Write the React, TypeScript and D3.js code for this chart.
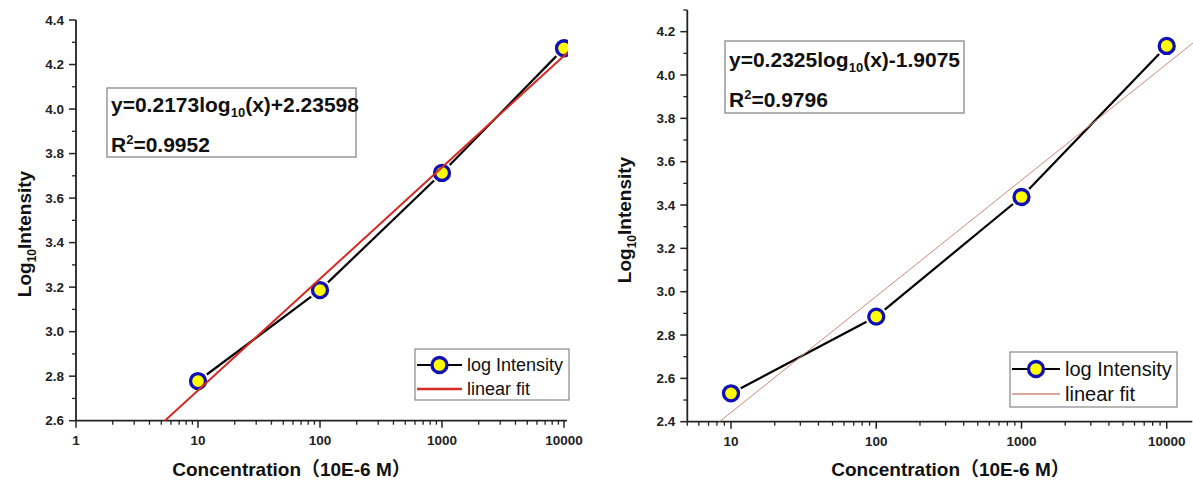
import React from "react";
import * as d3 from "d3";

// ---------- data ----------
const CONCENTRATION = [10, 100, 1000, 10000];
const LEFT_LOG_INTENSITY = [2.778, 3.187, 3.713, 4.273];
const RIGHT_LOG_INTENSITY = [2.531, 2.885, 3.437, 4.134];
const LEFT_X_TICKS = [1, 10, 100, 1000, 10000];
const RIGHT_X_TICKS = [10, 100, 1000, 10000];
const LEFT_Y_TICKS = [2.6, 2.8, 3.0, 3.2, 3.4, 3.6, 3.8, 4.0, 4.2, 4.4];
const RIGHT_Y_TICKS = [2.4, 2.6, 2.8, 3.0, 3.2, 3.4, 3.6, 3.8, 4.0, 4.2];
const LEFT_EQUATION = ["y=0.2173log", "10", "(x)+2.23598"];
const RIGHT_EQUATION = ["y=0.2325log", "10", "(x)-1.9075"];
const LEFT_R2 = "=0.9952";
const RIGHT_R2 = "=0.9796";
const LEGEND_LABELS = ["log Intensity", "linear fit"];
const X_TITLE = "Concentration（10E-6 M）";

const FONT = "'Liberation Sans', Arial, 'Noto Sans CJK SC', sans-serif";

function fit(xs: number[], ys: number[]) {
  const lx = xs.map((v) => Math.log10(v));
  const mx = d3.mean(lx)!;
  const my = d3.mean(ys)!;
  let num = 0, den = 0;
  lx.forEach((v, i) => {
    num += (v - mx) * (ys[i] - my);
    den += (v - mx) * (v - mx);
  });
  const slope = num / den;
  return { slope, intercept: my - slope * mx };
}

type PanelCfg = {
  id: string;
  xDomain: [number, number];
  xRange: [number, number];
  xAxisEnd: number;
  yDomain: [number, number];
  yRange: [number, number];
  xTicks: number[];
  yTicks: number[];
  values: number[];
  fitColor: string;
  fitWidth: number;
  clipRight: number;
  equation: string[];
  r2: string;
  eqBox: [number, number, number, number];
  eqBaselines: [number, number];
  legendBox: [number, number, number, number];
  legendRows: [number, number];
  legendFont: number;
  xTitleX: number;
  yTitle: [number, number];
};

const PANELS: PanelCfg[] = [
  {
    id: "L",
    xDomain: [1, 10000],
    xRange: [76, 564],
    xAxisEnd: 567,
    yDomain: [2.6, 4.4],
    yRange: [420.7, 20],
    xTicks: LEFT_X_TICKS,
    yTicks: LEFT_Y_TICKS,
    values: LEFT_LOG_INTENSITY,
    fitColor: "#d42a22",
    fitWidth: 2,
    clipRight: 568,
    equation: LEFT_EQUATION,
    r2: LEFT_R2,
    eqBox: [107, 88, 356, 157],
    eqBaselines: [112, 152],
    legendBox: [415, 349, 569, 400],
    legendRows: [365, 389],
    legendFont: 18,
    xTitleX: 291.5,
    yTitle: [31, 234],
  },
  {
    id: "R",
    xDomain: [5, 15000],
    xRange: [687.3, 1192.3],
    xAxisEnd: 1192.3,
    yDomain: [2.4, 4.3],
    yRange: [421.7, 10],
    xTicks: RIGHT_X_TICKS,
    yTicks: RIGHT_Y_TICKS,
    values: RIGHT_LOG_INTENSITY,
    fitColor: "#d08878",
    fitWidth: 1,
    clipRight: 1193,
    equation: RIGHT_EQUATION,
    r2: RIGHT_R2,
    eqBox: [725, 41, 964, 113],
    eqBaselines: [67, 107],
    legendBox: [1010, 352, 1177, 407],
    legendRows: [369, 394],
    legendFont: 20,
    xTitleX: 950.5,
    yTitle: [631, 220],
  },
];

function Marker({ cx, cy }: { cx: number; cy: number }) {
  return <circle cx={cx} cy={cy} r={7.5} fill="#ffff00" stroke="#1010b4" strokeWidth={3.3} />;
}

function Panel({ p }: { p: PanelCfg }) {
  const x = d3.scaleLog().domain(p.xDomain).range(p.xRange);
  const y = d3.scaleLinear().domain(p.yDomain).range(p.yRange);
  const y0 = p.yRange[0];
  const x0 = p.xRange[0];
  const axisColor = "#222";

  // minor ticks
  const minorX: number[] = [];
  for (let e = -1; e <= 5; e++) {
    for (let m = 2; m <= 9; m++) {
      const v = m * Math.pow(10, e);
      if (v >= p.xDomain[0] && v <= p.xDomain[1]) minorX.push(v);
    }
  }
  const minorY: number[] = [];
  for (let v = p.yDomain[0] + 0.1; v < p.yDomain[1] + 1e-9; v += 0.2) minorY.push(+v.toFixed(2));

  const pts = CONCENTRATION.map((c, i) => [x(c), y(p.values[i])] as [number, number]);
  const gap = 11;
  const segs = pts.slice(1).map((b, i) => {
    const a = pts[i];
    const dx = b[0] - a[0], dy = b[1] - a[1];
    const L = Math.hypot(dx, dy);
    return [a[0] + (dx / L) * gap, a[1] + (dy / L) * gap, b[0] - (dx / L) * gap, b[1] - (dy / L) * gap];
  });

  const f = fit(CONCENTRATION, p.values);
  const fitLine = d3
    .line<number>()
    .x((v) => x(v))
    .y((v) => y(f.slope * Math.log10(v) + f.intercept));
  const fitXs = [p.xDomain[0] * 0.5, p.xDomain[1] * 2];

  const clipId = "clip" + p.id;
  const [lx0, ly0, lx1, ly1] = p.legendBox;
  const [ex0, ey0, ex1, ey1] = p.eqBox;
  const sampleX0 = lx0 + 2;
  const sampleX1 = lx0 + (p.id === "L" ? 47 : 50);

  return (
    <g>
      <defs>
        <clipPath id={clipId}>
          <rect x={x0} y={0} width={p.clipRight - x0} height={y0} />
        </clipPath>
      </defs>
      {/* axes */}
      <line x1={x0} y1={y0} x2={p.xAxisEnd} y2={y0} stroke={axisColor} strokeWidth={1.8} />
      <line x1={x0} y1={y0} x2={x0} y2={p.yRange[1]} stroke={axisColor} strokeWidth={1.8} />
      {p.xTicks.map((t) => (
        <g key={"xt" + t}>
          <line x1={x(t)} x2={x(t)} y1={y0} y2={y0 + 7} stroke={axisColor} strokeWidth={1.5} />
          <text x={x(t)} y={y0 + 24} textAnchor="middle" fontSize={13.5} fontWeight="bold" fill="#222">
            {t}
          </text>
        </g>
      ))}
      {minorX.map((t) => (
        <line key={"xm" + t} x1={x(t)} x2={x(t)} y1={y0} y2={y0 + 4} stroke={axisColor} strokeWidth={1.3} />
      ))}
      {p.yTicks.map((t) => (
        <g key={"yt" + t}>
          <line x1={x0 - 7} x2={x0} y1={y(t)} y2={y(t)} stroke={axisColor} strokeWidth={1.5} />
          <text x={x0 - 12} y={y(t) + 4.5} textAnchor="end" fontSize={13.5} fontWeight="bold" fill="#222">
            {t.toFixed(1)}
          </text>
        </g>
      ))}
      {minorY.map((t) => (
        <line key={"ym" + t} x1={x0 - 4} x2={x0} y1={y(t)} y2={y(t)} stroke={axisColor} strokeWidth={1.3} />
      ))}
      {/* data */}
      <g clipPath={`url(#${clipId})`}>
        {segs.map((s, i) => (
          <line key={"s" + i} x1={s[0]} y1={s[1]} x2={s[2]} y2={s[3]} stroke="#000" strokeWidth={2.2} />
        ))}
        {pts.map((pt, i) => (
          <Marker key={"m" + i} cx={pt[0]} cy={pt[1]} />
        ))}
        <path d={fitLine(fitXs) || ""} fill="none" stroke={p.fitColor} strokeWidth={p.fitWidth} />
      </g>
      {/* equation box */}
      <rect x={ex0} y={ey0} width={ex1 - ex0} height={ey1 - ey0} fill="white" stroke="#888" strokeWidth={1.3} />
      <text x={ex0 + 4} y={p.eqBaselines[0]} fontSize={21} fontWeight="bold" fill="#111">
        {p.equation[0]}
        <tspan dy={5} fontSize={13}>{p.equation[1]}</tspan>
        <tspan dy={-5}>{p.equation[2]}</tspan>
      </text>
      <text x={ex0 + 4} y={p.eqBaselines[1]} fontSize={21} fontWeight="bold" fill="#111">
        R<tspan dy={-8} fontSize={13}>2</tspan>
        <tspan dy={8}>{p.r2}</tspan>
      </text>
      {/* legend */}
      <rect x={lx0} y={ly0} width={lx1 - lx0} height={ly1 - ly0} fill="white" stroke="#888" strokeWidth={1.2} />
      <line x1={sampleX0} x2={sampleX1} y1={p.legendRows[0]} y2={p.legendRows[0]} stroke="#000" strokeWidth={2} />
      <Marker cx={(sampleX0 + sampleX1) / 2} cy={p.legendRows[0]} />
      <line x1={sampleX0} x2={sampleX1} y1={p.legendRows[1]} y2={p.legendRows[1]} stroke={p.fitColor} strokeWidth={p.fitWidth + 0.5} />
      <text x={sampleX1 + 5} y={p.legendRows[0] + p.legendFont * 0.36} fontSize={p.legendFont} fill="#111">
        {LEGEND_LABELS[0]}
      </text>
      <text x={sampleX1 + 5} y={p.legendRows[1] + p.legendFont * 0.36} fontSize={p.legendFont} fill="#111">
        {LEGEND_LABELS[1]}
      </text>
      {/* axis titles */}
      <text x={p.xTitleX} y={476} textAnchor="middle" fontSize={19} fontWeight="bold" fill="#111">
        {X_TITLE}
      </text>
      <text
        transform={`translate(${p.yTitle[0]},${p.yTitle[1]}) rotate(-90)`}
        textAnchor="middle"
        fontSize={19}
        fontWeight="bold"
        fill="#111"
      >
        Log<tspan dy={5} fontSize={12}>10</tspan>
        <tspan dy={-5}>Intensity</tspan>
      </text>
    </g>
  );
}

export default function App() {
  return (
    <svg
      width={1193}
      height={480}
      style={{ position: "absolute", left: 0, top: 0, background: "white", fontFamily: FONT }}
    >
      <rect width={1193} height={480} fill="white" />
      {PANELS.map((p) => (
        <Panel key={p.id} p={p} />
      ))}
    </svg>
  );
}
